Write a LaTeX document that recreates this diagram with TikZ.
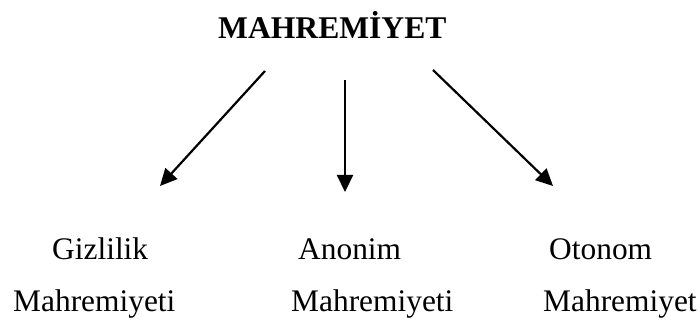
\documentclass[tikz,border=0pt]{standalone}
\usepackage{fontspec}
\setmainfont{Liberation Serif}
\usetikzlibrary{arrows.meta}
\begin{document}
\begin{tikzpicture}[x=1pt,y=-1pt,
  lbl/.style={anchor=base west,inner sep=0pt,font=\fontsize{31.4}{36}\selectfont},
  ttl/.style={anchor=base west,inner sep=0pt,font=\fontsize{31.6}{36}\selectfont\bfseries},
  arr/.style={line width=2.2pt,-{Triangle[length=17pt,width=16pt]}}]
\useasboundingbox (0,0) rectangle (700,320);
\node[ttl] (title) at (218,39) {MAHREM\.IYET};
\node[lbl] (g1) at (52,259) {Gizlilik};
\node[lbl] (g2) at (13,311) {Mahremiyeti};
\node[lbl] (a1) at (298,259) {Anonim};
\node[lbl] (a2) at (291,311) {Mahremiyeti};
\node[lbl] (o1) at (549,259) {Otonom};
\node[lbl] (o2) at (543,311) {Mahremiyet};
\coordinate (ls) at (265,71);
\coordinate (le) at (160,186);
\coordinate (ms) at (345,80);
\coordinate (me) at (345,192);
\coordinate (rs) at (433,70);
\coordinate (re) at (553,186);
\draw[arr] (ls) -- (le);
\draw[arr] (ms) -- (me);
\draw[arr] (rs) -- (re);
\end{tikzpicture}
\end{document}
